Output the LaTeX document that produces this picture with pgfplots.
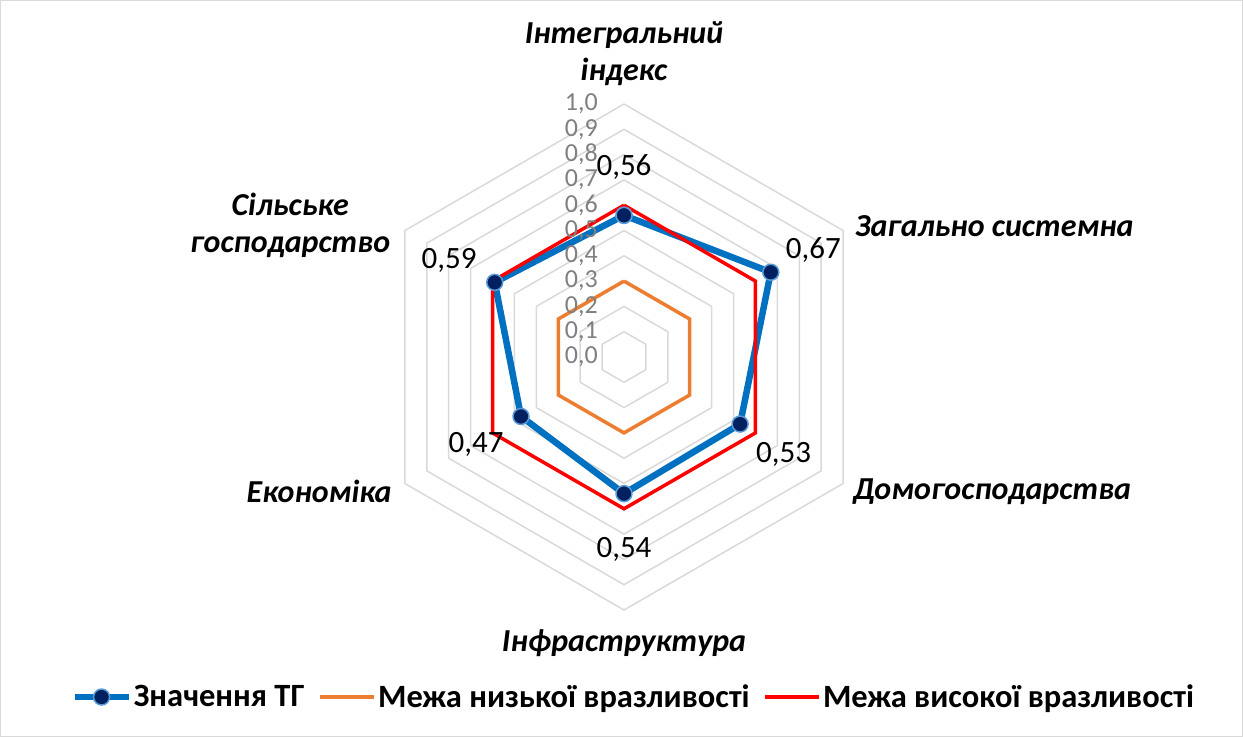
\documentclass[border=0pt]{standalone}
\usepackage{fontspec}
\setmainfont{Carlito}
\usepackage{pgfplots}
\pgfplotsset{compat=1.18}
\usepgfplotslibrary{polar}
\definecolor{tgblue}{HTML}{0070C0}
\definecolor{tgnavy}{HTML}{002060}
\definecolor{tgring}{HTML}{5B9BD5}
\definecolor{lowc}{HTML}{ED7D31}
\definecolor{highc}{HTML}{FF0000}
\definecolor{gridc}{HTML}{D9D9D9}
\begin{document}
\begin{tikzpicture}
\useasboundingbox (0,0) rectangle (1243pt,737pt);
\draw[gridc, line width=1pt] (0.5pt,0.5pt) rectangle (1242.5pt,736.5pt);
\begin{polaraxis}[
  at={(624pt,380pt)}, anchor=center,
  width=506pt, height=506pt, scale only axis,
  xmin=0, xmax=360, ymin=0, ymax=1,
  hide axis, clip=false,
  legend columns=3,
  legend style={at={(0.519,-0.172)}, anchor=center, draw=none, fill=none,
    font=\fontsize{32.5}{36}\selectfont\bfseries,
    /tikz/every even column/.append style={column sep=12pt}},
  legend image code/.code={\draw[mark repeat=2,mark phase=2,#1] plot coordinates {(0pt,0pt) (27pt,0pt) (54pt,0pt)};},
]
% hexagonal grid
\addplot[gridc, line width=1.5pt, forget plot] coordinates {(90,0.1) (30,0.1) (330,0.1) (270,0.1) (210,0.1) (150,0.1) (90,0.1)};
\addplot[gridc, line width=1.5pt, forget plot] coordinates {(90,0.2) (30,0.2) (330,0.2) (270,0.2) (210,0.2) (150,0.2) (90,0.2)};
\addplot[gridc, line width=1.5pt, forget plot] coordinates {(90,0.3) (30,0.3) (330,0.3) (270,0.3) (210,0.3) (150,0.3) (90,0.3)};
\addplot[gridc, line width=1.5pt, forget plot] coordinates {(90,0.4) (30,0.4) (330,0.4) (270,0.4) (210,0.4) (150,0.4) (90,0.4)};
\addplot[gridc, line width=1.5pt, forget plot] coordinates {(90,0.5) (30,0.5) (330,0.5) (270,0.5) (210,0.5) (150,0.5) (90,0.5)};
\addplot[gridc, line width=1.5pt, forget plot] coordinates {(90,0.6) (30,0.6) (330,0.6) (270,0.6) (210,0.6) (150,0.6) (90,0.6)};
\addplot[gridc, line width=1.5pt, forget plot] coordinates {(90,0.7) (30,0.7) (330,0.7) (270,0.7) (210,0.7) (150,0.7) (90,0.7)};
\addplot[gridc, line width=1.5pt, forget plot] coordinates {(90,0.8) (30,0.8) (330,0.8) (270,0.8) (210,0.8) (150,0.8) (90,0.8)};
\addplot[gridc, line width=1.5pt, forget plot] coordinates {(90,0.9) (30,0.9) (330,0.9) (270,0.9) (210,0.9) (150,0.9) (90,0.9)};
\addplot[gridc, line width=1.5pt, forget plot] coordinates {(90,1.0) (30,1.0) (330,1.0) (270,1.0) (210,1.0) (150,1.0) (90,1.0)};

% data
\addplot[tgblue, line width=6.5pt, line join=round, mark=*, mark size=8pt,
  mark options={fill=tgnavy, draw=tgring, line width=1.5pt}]
  coordinates {(90,0.56) (30,0.67) (330,0.53) (270,0.54) (210,0.47) (150,0.59) (90,0.56)};
\addlegendentry{Значення ТГ}
\addplot[lowc, line width=3.5pt, line join=miter]
  coordinates {(90,0.3) (30,0.3) (330,0.3) (270,0.3) (210,0.3) (150,0.3) (90,0.3)};
\addlegendentry{Межа низької вразливості}
\addplot[highc, line width=3.5pt, line join=miter]
  coordinates {(90,0.6) (30,0.6) (330,0.6) (270,0.6) (210,0.6) (150,0.6) (90,0.6)};
\addlegendentry{Межа високої вразливості}

% radial tick labels
\begin{scope}[every node/.style={anchor=east, inner sep=0pt, text=gray, font=\fontsize{26}{26}\selectfont, xshift=-26pt}]
\node at (axis cs:90,0.0) {0,0};
\node at (axis cs:90,0.1) {0,1};
\node at (axis cs:90,0.2) {0,2};
\node at (axis cs:90,0.3) {0,3};
\node at (axis cs:90,0.4) {0,4};
\node at (axis cs:90,0.5) {0,5};
\node at (axis cs:90,0.6) {0,6};
\node at (axis cs:90,0.7) {0,7};
\node at (axis cs:90,0.8) {0,8};
\node at (axis cs:90,0.9) {0,9};
\node at (axis cs:90,1.0) {1,0};
\end{scope}

% data labels
\begin{scope}[every node/.style={inner sep=0pt, font=\fontsize{31}{31}\selectfont}]
\node at (axis cs:90,0.75) {0,56};
\node at (axis cs:29.5,0.86) {0,67};
\node at (axis cs:328.5,0.74) {0,53};
\node at (axis cs:270,0.76) {0,54};
\node at (axis cs:210.7,0.68) {0,47};
\node at (axis cs:151.1,0.79) {0,59};
\end{scope}

% category labels
\begin{scope}[every node/.style={inner sep=0pt, align=center, font=\fontsize{32}{37}\selectfont\bfseries\itshape}]
\node at (axis cs:90,1.2) {Інтегральний\\індекс};
\node[anchor=west] at (axis cs:29.6,1.05) {Загально системна};
\node[anchor=west] at (axis cs:329.5,1.05) {Домогосподарства};
\node at (axis cs:270,1.13) {Інфраструктура};
\node[anchor=east] at (axis cs:210,1.06) {Економіка};
\node[anchor=east] at (axis cs:150.6,1.06) {Сільське\\господарство};
\end{scope}
\end{polaraxis}
\end{tikzpicture}
\end{document}
